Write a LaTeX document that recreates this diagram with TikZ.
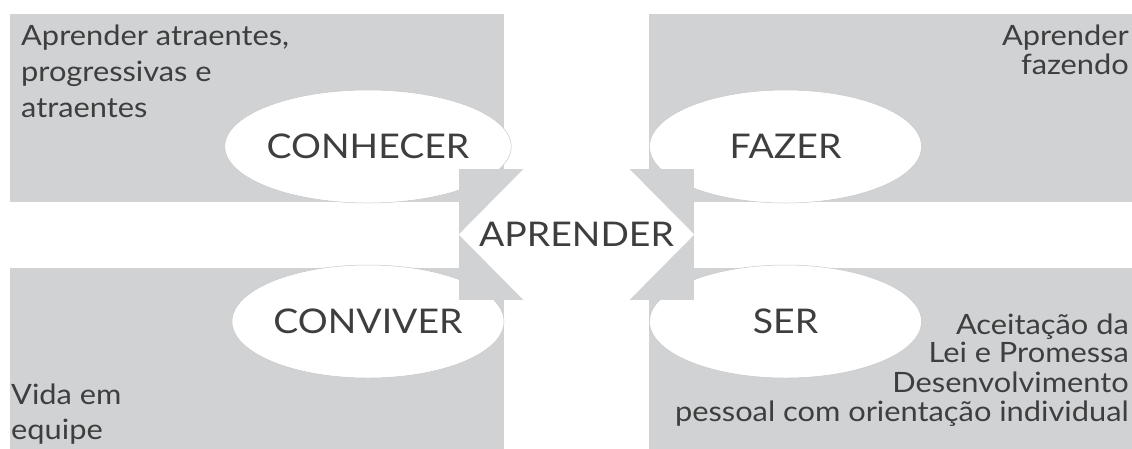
\documentclass[tikz,border=0pt]{standalone}
\usepackage{fontspec}
\setmainfont{Lato}[FakeStretch=1.1]
\usetikzlibrary{shapes.geometric}
\definecolor{panel}{HTML}{D1D2D4}
\definecolor{ink}{HTML}{3E3E3E}
\definecolor{rim}{HTML}{C8C8C8}
\tikzset{
  panelbox/.style={fill=panel},
  bubble/.style={ellipse, fill=white, draw=rim, line width=0.5pt, minimum width=272pt, minimum height=113pt, inner sep=0pt, text=ink, font=\fontsize{34}{40}\selectfont},
  bodytext/.style={inner sep=0pt, text=ink},
}
\begin{document}
\begin{tikzpicture}[x=1pt,y=-1pt]
\useasboundingbox (0,0) rectangle (1132,448);
\begin{scope}
\clip (0,0) rectangle (1132,448);
% panels
\fill[panelbox] (10,14) rectangle (504,202);
\fill[panelbox] (649,14) rectangle (1140,202);
\fill[panelbox] (10,268) rectangle (504,460);
\fill[panelbox] (649,268) rectangle (1140,460);
% texts
\node[bodytext, anchor=base west, font=\fontsize{28}{36}\selectfont] (tl) at (21,45)
  {\begin{tabular}[t]{@{}l@{}}Aprender atraentes,\\progressivas e\\atraentes\end{tabular}};
\node[bodytext, anchor=base east, font=\fontsize{28}{28}\selectfont] (tr) at (1129,45)
  {\begin{tabular}[t]{@{}r@{}}Aprender\\fazendo\end{tabular}};
\node[bodytext, anchor=base west, font=\fontsize{28}{35}\selectfont] (bl) at (11,404)
  {\begin{tabular}[t]{@{}l@{}}Vida em\\equipe\end{tabular}};
\node[bodytext, anchor=base east, font=\fontsize{28}{28.3}\selectfont] (br) at (1129,334)
  {\begin{tabular}[t]{@{}r@{}}Aceitação da\\Lei e Promessa\\Desenvolvimento\\pessoal com orientação individual\end{tabular}};
% bubbles
\node[bubble] (conhecer) at (368,146.5) {CONHECER};
\node[bubble] (fazer) at (785.5,146.5) {FAZER};
\node[bubble] (conviver) at (368,321.5) {CONVIVER};
\node[bubble] (ser) at (785.5,321.5) {SER};
% centre
\node[fill=panel, minimum width=235pt, minimum height=131pt, inner sep=0pt] (box) at (576.5,234.5) {};
\fill[white] (box.west) -- ([xshift=65pt]box.north west) -- ([xshift=-65pt]box.north east)
  -- (box.east) -- ([xshift=-65pt]box.south east) -- ([xshift=65pt]box.south west) -- cycle;
\node[text=ink, inner sep=0pt, font=\fontsize{34}{40}\selectfont] (aprender) at (box.center) {APRENDER};
\end{scope}
\end{tikzpicture}
\end{document}
